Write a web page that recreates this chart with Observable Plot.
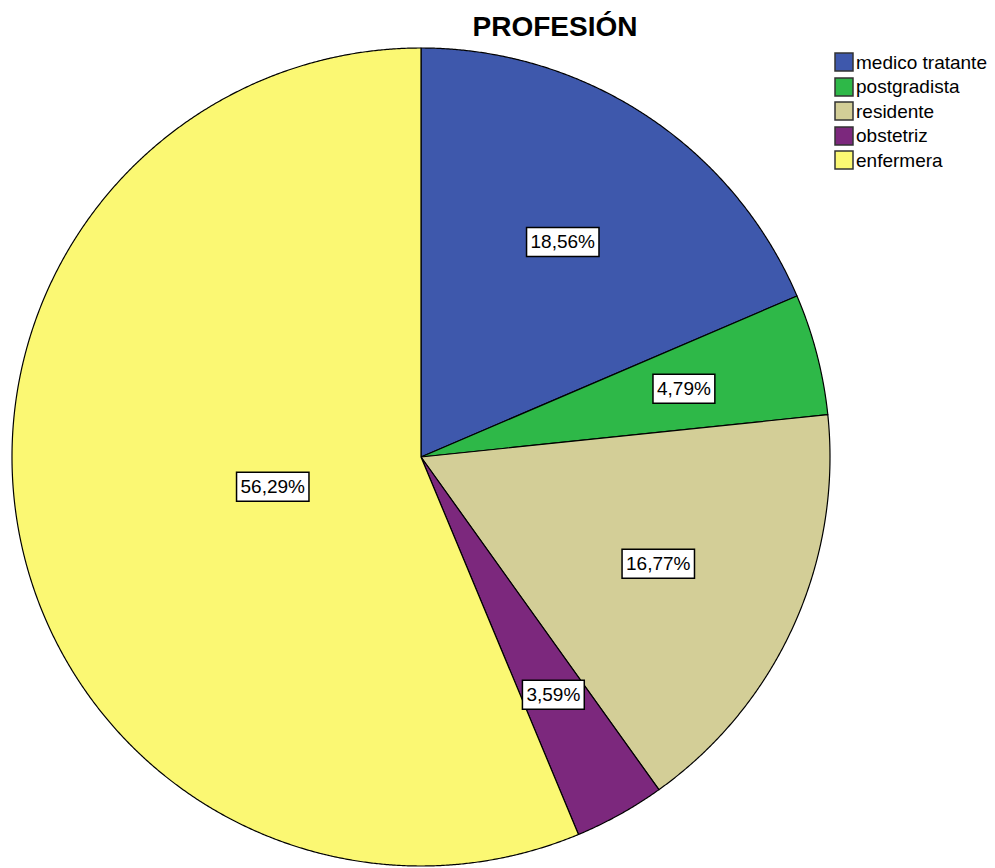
<!DOCTYPE html>
<html>
<head>
<meta charset="utf-8">
<script src="https://cdn.jsdelivr.net/npm/d3@7"></script>
<script src="https://cdn.jsdelivr.net/npm/@observablehq/plot@0.6"></script>
<style>
  html, body { margin: 0; padding: 0; background: #fff; }
  #wrap { position: relative; width: 995px; height: 868px; overflow: hidden; font-family: "Liberation Sans", Arial, sans-serif; }
  #title { position: absolute; left: 405px; width: 300px; top: 12.8px; text-align: center; font-size: 28px; font-weight: bold; line-height: 1; color: #000; }
  #legend { position: absolute; left: 835px; top: 50.5px; font-size: 19px; }
  #legend .lg-swatch { height: 23.5px !important; line-height: 23.5px; margin: 0 !important; font-size: 19px !important; }
  #legend .lg-swatch svg { stroke: #333; stroke-width: 1.5px; margin-right: 3px !important; }
</style>
</head>
<body>
<div id="wrap">
  <div id="chart"></div>
  <div id="title">PROFESIÓN</div>
  <div id="legend"></div>
</div>
<script>
const categories = ["medico tratante", "postgradista", "residente", "obstetriz", "enfermera"];
const percents = [18.56, 4.79, 16.77, 3.59, 56.29];
const labels = ["18,56%", "4,79%", "16,77%", "3,59%", "56,29%"];
const colors = ["#3E58AC", "#2EB848", "#D3CE97", "#7C287D", "#FBF873"];

const records = categories.map((c, i) => ({cat: c, p: percents[i], label: labels[i]}));
const arcs = d3.pie().sort(null).value(d => d.p)(records);

// slice outlines (unit circle, angle clockwise from 12 o'clock)
const pts = [];
for (const a of arcs) {
  pts.push({cat: a.data.cat, x: 0, y: 0});
  const n = Math.max(2, Math.ceil((a.endAngle - a.startAngle) / 0.004));
  for (let k = 0; k <= n; k++) {
    const t = a.startAngle + (a.endAngle - a.startAngle) * k / n;
    pts.push({cat: a.data.cat, x: Math.sin(t), y: Math.cos(t)});
  }
}

// label anchors near sector centroids
const labelPts = arcs.map(a => {
  const alpha = a.endAngle - a.startAngle;
  const mid = (a.startAngle + a.endAngle) / 2;
  const r = 4 * Math.sin(alpha / 2) / (3 * alpha);
  return {label: a.data.label, x: r * Math.sin(mid), y: r * Math.cos(mid)};
});

const fontSize = 19;
function boxSymbol(text) {
  let em = 0;
  for (const ch of text) em += ch === "," ? 0.278 : ch === "%" ? 0.889 : 0.556;
  const w = em * fontSize + 8, h = 29;
  return {draw(ctx) { ctx.rect(-w / 2, -h / 2, w, h); }};
}

const chart = Plot.plot({
  width: 995,
  height: 868,
  marginLeft: 11.5,
  marginRight: 165.5,
  marginTop: 47.5,
  marginBottom: 2.5,
  x: {domain: [-1, 1], axis: null},
  y: {domain: [-1, 1], axis: null},
  color: {type: "ordinal", domain: categories, range: colors},
  style: {background: "#fff", fontFamily: "'Liberation Sans', Arial, sans-serif", overflow: "visible"},
  marks: [
    Plot.line(pts, {x: "x", y: "y", z: "cat", fill: "cat", stroke: "#000", strokeWidth: 1.2, curve: "linear-closed"}),
    ...labelPts.map(d => Plot.dot([d], {x: "x", y: "y", r: 1, symbol: boxSymbol(d.label), fill: "#fff", stroke: "#000", strokeWidth: 1.5})),
    Plot.text(labelPts, {x: "x", y: "y", text: "label", fontSize: fontSize, fill: "#000"})
  ]
});
document.getElementById("chart").appendChild(chart);

const legend = Plot.legend({
  color: {type: "ordinal", domain: categories, range: colors},
  legend: "swatches",
  columns: 1,
  swatchSize: 18,
  className: "lg",
  style: {fontSize: "19px", fontFamily: "'Liberation Sans', Arial, sans-serif", color: "#000"}
});
document.getElementById("legend").appendChild(legend);
</script>
</body>
</html>
